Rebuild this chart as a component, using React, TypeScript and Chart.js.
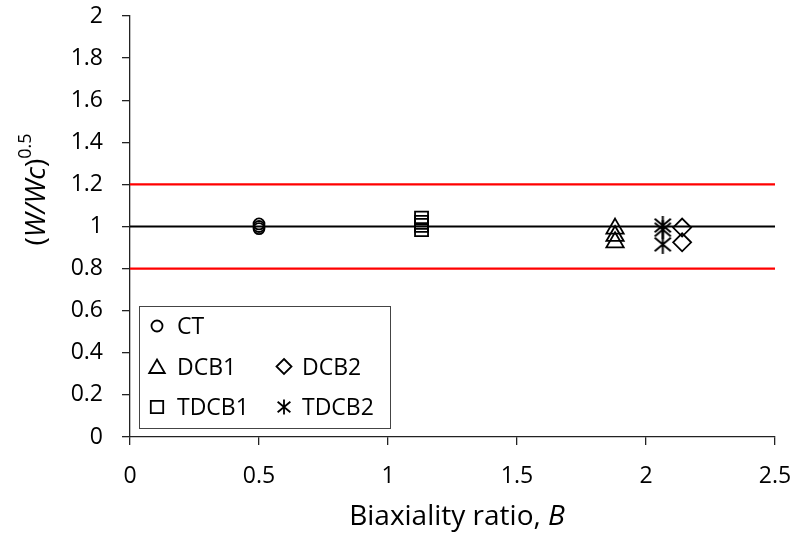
import React, { useEffect, useRef } from 'react';
import { Chart, registerables } from 'chart.js';

Chart.register(...registerables);

// ---- data ----
const seriesLabels = ['CT', 'DCB1', 'DCB2', 'TDCB1', 'TDCB2'];
const ctB = [0.5, 0.5, 0.5];
const ctRatio = [1.012, 1.0, 0.99];
const dcb1B = [1.88, 1.88, 1.88];
const dcb1Ratio = [0.99, 0.955, 0.925];
const dcb2B = [2.14, 2.14];
const dcb2Ratio = [0.995, 0.925];
const tdcb1B = [1.13, 1.13, 1.13, 1.13];
const tdcb1Ratio = [1.04, 1.02, 1.005, 0.985];
const tdcb2B = [2.065, 2.065, 2.065];
const tdcb2Ratio = [1.005, 0.985, 0.915];
const refLevels = [1.2, 1.0, 0.8];
const xRange = [0, 2.5];
const yRange = [0, 2];
const xStep = 0.5;
const yStep = 0.2;

const FONT = '"Open Sans", Lato, sans-serif';

function makeAsterisk(size: number, lw: number): HTMLCanvasElement {
  const c = document.createElement('canvas');
  c.width = size;
  c.height = size;
  const g = c.getContext('2d')!;
  const m = size / 2;
  const a = size / 2 - 1;
  g.strokeStyle = '#000';
  g.lineWidth = lw;
  g.beginPath();
  g.moveTo(m, m - a);
  g.lineTo(m, m + a);
  g.moveTo(m - a * 0.85, m - a * 0.7);
  g.lineTo(m + a * 0.85, m + a * 0.7);
  g.moveTo(m + a * 0.85, m - a * 0.7);
  g.lineTo(m - a * 0.85, m + a * 0.7);
  g.stroke();
  return c;
}

function drawMarker(ctx: CanvasRenderingContext2D, style: string, x: number, y: number, r: number) {
  ctx.save();
  ctx.strokeStyle = '#000';
  ctx.lineWidth = 1.8;
  ctx.beginPath();
  if (style === 'circle') {
    ctx.arc(x, y, r, 0, Math.PI * 2);
  } else if (style === 'triangle') {
    ctx.moveTo(x, y - r);
    ctx.lineTo(x + r * 0.866, y + r * 0.5);
    ctx.lineTo(x - r * 0.866, y + r * 0.5);
    ctx.closePath();
  } else if (style === 'rectRot') {
    ctx.moveTo(x, y - r);
    ctx.lineTo(x + r, y);
    ctx.lineTo(x, y + r);
    ctx.lineTo(x - r, y);
    ctx.closePath();
  } else if (style === 'rect') {
    ctx.rect(x - r, y - r, 2 * r, 2 * r);
  } else if (style === 'asterisk') {
    ctx.moveTo(x, y - r);
    ctx.lineTo(x, y + r);
    ctx.moveTo(x - r * 0.85, y - r * 0.7);
    ctx.lineTo(x + r * 0.85, y + r * 0.7);
    ctx.moveTo(x + r * 0.85, y - r * 0.7);
    ctx.lineTo(x - r * 0.85, y + r * 0.7);
  }
  ctx.stroke();
  ctx.restore();
}

type Part = { t: string; font: string; dy?: number };
function drawRich(ctx: CanvasRenderingContext2D, parts: Part[], cx: number, baseY: number) {
  let total = 0;
  for (const p of parts) {
    ctx.font = p.font;
    total += ctx.measureText(p.t).width;
  }
  let x = cx - total / 2;
  ctx.textBaseline = 'alphabetic';
  ctx.textAlign = 'left';
  ctx.fillStyle = '#000';
  for (const p of parts) {
    ctx.font = p.font;
    ctx.fillText(p.t, x, baseY + (p.dy || 0));
    x += ctx.measureText(p.t).width;
  }
}

const fmt = (v: any) => String(parseFloat(Number(v).toFixed(2)));

export default function App() {
  const ref = useRef<HTMLCanvasElement | null>(null);

  useEffect(() => {
    if (!ref.current) return;
    const asterisk = makeAsterisk(21, 2);
    const mk = (xs: number[], ys: number[]) => xs.map((x, i) => ({ x, y: ys[i] }));
    const markerStyles: Record<string, string> = {
      CT: 'circle',
      DCB1: 'triangle',
      DCB2: 'rectRot',
      TDCB1: 'rect',
      TDCB2: 'asterisk',
    };

    const refColors = ['#ff0000', '#000000', '#ff0000'];
    const refDatasets = refLevels.map((lv, i) => ({
      type: 'line' as const,
      label: 'ref' + i,
      data: xRange.map((x) => ({ x, y: lv })),
      borderColor: refColors[i],
      borderWidth: 2.2,
      pointRadius: 0,
      fill: false,
    }));

    const common = {
      type: 'scatter' as const,
      borderColor: '#000',
      backgroundColor: 'rgba(0,0,0,0)',
      borderWidth: 1.8,
      showLine: false,
    };

    const datasets: any[] = [
      ...refDatasets,
      { ...common, label: seriesLabels[0], data: mk(ctB, ctRatio), pointStyle: 'circle', pointRadius: 5.5 },
      { ...common, label: seriesLabels[3], data: mk(tdcb1B, tdcb1Ratio), pointStyle: 'rect', pointRadius: 9.2 },
      { ...common, label: seriesLabels[1], data: mk(dcb1B, dcb1Ratio), pointStyle: 'triangle', pointRadius: 10 },
      { ...common, label: seriesLabels[4], data: mk(tdcb2B, tdcb2Ratio), pointStyle: asterisk, pointRadius: 10 },
      { ...common, label: seriesLabels[2], data: mk(dcb2B, dcb2Ratio), pointStyle: 'rectRot', pointRadius: 9 },
    ];

    const annotate = {
      id: 'annotate',
      afterDraw(chart: any) {
        const ctx: CanvasRenderingContext2D = chart.ctx;
        ctx.save();
        // legend box
        const bx = 139.5, by = 306.5, bw = 251, bh = 122;
        ctx.fillStyle = '#fff';
        ctx.fillRect(bx, by, bw, bh);
        ctx.strokeStyle = '#444';
        ctx.lineWidth = 1;
        ctx.strokeRect(bx, by, bw, bh);
        const rows = [[seriesLabels[0]], [seriesLabels[1], seriesLabels[2]], [seriesLabels[3], seriesLabels[4]]];
        const rowY = [326, 366.5, 407];
        const symX = [157, 284];
        const txtX = [177, 302];
        const legendR: Record<string, number> = { circle: 5.5, triangle: 9, rectRot: 7.5, rect: 6.2, asterisk: 7.5 };
        ctx.font = `23px ${FONT}`;
        ctx.fillStyle = '#000';
        rows.forEach((row, ri) => {
          row.forEach((lab, ci) => {
            const st = markerStyles[lab];
            const yy = rowY[ri] + (st === 'triangle' ? 2 : 0);
            drawMarker(ctx, st, symX[ci], yy, legendR[st]);
            ctx.font = `23px ${FONT}`;
            ctx.fillStyle = '#000';
            ctx.textBaseline = 'alphabetic';
            ctx.textAlign = 'left';
            ctx.fillText(lab, txtX[ci], rowY[ri] + 8.3);
          });
        });
        // x title
        drawRich(ctx, [
          { t: 'Biaxiality ratio, ', font: `28px ${FONT}` },
          { t: 'B', font: `italic 28px ${FONT}` },
        ], 457, 525);
        // y title
        ctx.translate(44.5, 189.5);
        ctx.rotate(-Math.PI / 2);
        drawRich(ctx, [
          { t: '(', font: `28px ${FONT}` },
          { t: 'W/Wc', font: `italic 28px ${FONT}` },
          { t: ')', font: `28px ${FONT}` },
          { t: '0.5', font: `18px ${FONT}`, dy: -14 },
        ], 0, 0);
        ctx.restore();
      },
    };

    const axisColor = '#222';
    const chart = new Chart(ref.current, {
      type: 'scatter',
      data: { datasets },
      options: {
        animation: false,
        responsive: false,
        maintainAspectRatio: false,
        layout: { padding: { top: 16, right: 19, left: 0, bottom: 0 } },
        plugins: { legend: { display: false }, tooltip: { enabled: false } },
        scales: {
          x: {
            type: 'linear',
            min: xRange[0],
            max: xRange[1],
            ticks: { stepSize: xStep, color: '#000', font: { family: FONT, size: 23 }, padding: 18, callback: fmt },
            grid: { drawOnChartArea: false, drawTicks: true, tickLength: 8, color: axisColor, lineWidth: 1.3 },
            border: { display: true, color: axisColor, width: 1.3 },
            afterFit: (s: any) => {
              s.height = 100;
              s.paddingLeft = 0; s.paddingRight = 0; s.paddingTop = 0; s.paddingBottom = 0;
            },
          },
          y: {
            type: 'linear',
            min: yRange[0],
            max: yRange[1],
            ticks: { stepSize: yStep, color: '#000', font: { family: FONT, size: 23 }, padding: 19, callback: fmt },
            grid: { drawOnChartArea: false, drawTicks: true, tickLength: 8, color: axisColor, lineWidth: 1.3 },
            border: { display: true, color: axisColor, width: 1.3 },
            afterFit: (s: any) => {
              s.width = 130;
              s.paddingLeft = 0; s.paddingRight = 0; s.paddingTop = 0; s.paddingBottom = 0;
            },
          },
        },
      },
      plugins: [annotate],
    });
    return () => chart.destroy();
  }, []);

  return (
    <div style={{ position: 'absolute', left: 0, top: 0, width: 794, height: 537, background: '#fff' }}>
      <canvas ref={ref} width={794} height={537} style={{ width: 794, height: 537, display: 'block' }} />
    </div>
  );
}
